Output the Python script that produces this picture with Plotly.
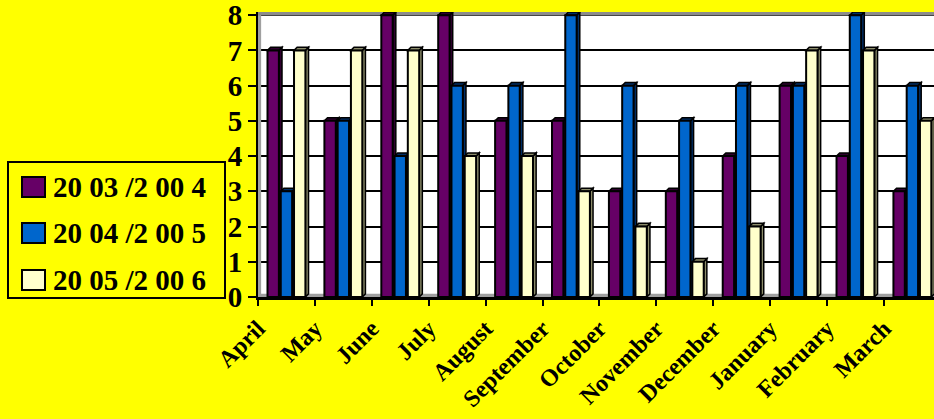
import plotly.graph_objects as go

# Monthly values per season
months = ["April", "May", "June", "July", "August", "September", "October",
          "November", "December", "January", "February", "March"]
season_names = ["20 03 /2 00 4", "20 04 /2 00 5", "20 05 /2 00 6"]
s_2003_04 = [7, 5, 8, 8, 5, 5, 3, 3, 4, 6, 4, 3]
s_2004_05 = [3, 5, 4, 6, 6, 8, 6, 5, 6, 6, 8, 6]
s_2005_06 = [7, 7, 7, 4, 4, 3, 2, 1, 2, 7, 7, 5]
y_ticks = [0, 1, 2, 3, 4, 5, 6, 7, 8]

series = [s_2003_04, s_2004_05, s_2005_06]
front_colors = ["#660066", "#0066CC", "#FFFFCC"]
side_colors = ["#2E002E", "#002E66", "#8C8C6A"]

W, H = 934, 419
ML, MT, MB = 258, 12, 122
plot_bottom = H - MB
plot_w = W - ML
plot_h = plot_bottom - MT

def paper_x(px):
    return (px - ML) / plot_w

def paper_y(py):
    return (plot_bottom - py) / plot_h

BAR_W = 0.2       # front face width (category units)
PITCH = 0.233     # spacing between bars in a group
DX = 0.055        # depth offset, x
DY = 0.09         # depth offset, y
Y_TOP = 8.09
X_RANGE = [-0.5, 11.38]

fig = go.Figure()
shapes = []

# floor and left wall of the 3D box
shapes.append(dict(type="rect", xref="x", yref="y", x0=-0.5, x1=X_RANGE[1],
                   y0=0, y1=DY, fillcolor="#A0A0A0", line=dict(width=0),
                   layer="between"))
shapes.append(dict(type="rect", xref="x", yref="y", x0=-0.5, x1=-0.5 + DX,
                   y0=0, y1=Y_TOP, fillcolor="#A0A0A0", line=dict(width=0),
                   layer="between"))
shapes.append(dict(type="rect", xref="x", yref="y", x0=-0.5, x1=X_RANGE[1],
                   y0=8 - 0.01, y1=Y_TOP, fillcolor="#8C8C8C", line=dict(width=0),
                   layer="between"))

for k, (vals, name) in enumerate(zip(series, season_names)):
    xs = [i + (k - 1) * PITCH for i in range(len(months))]
    fig.add_trace(go.Bar(
        x=xs, y=vals, width=BAR_W, name=name,
        marker=dict(color=front_colors[k], line=dict(color="black", width=2)),
        showlegend=False,
    ))
    # side and top faces of each bar
    for x, v in zip(xs, vals):
        xl, xr = x - BAR_W / 2, x + BAR_W / 2
        side = (f"M {xr},0 L {xr + DX},{DY} L {xr + DX},{v + DY} "
                f"L {xr},{v} Z")
        top = (f"M {xl},{v} L {xl + DX},{v + DY} L {xr + DX},{v + DY} "
               f"L {xr},{v} Z")
        for p in (side, top):
            shapes.append(dict(type="path", xref="x", yref="y", path=p,
                               fillcolor=side_colors[k],
                               line=dict(color="black", width=1.5),
                               layer="between"))

# legend box drawn by hand
shapes.append(dict(type="rect", xref="paper", yref="paper",
                   x0=paper_x(8), x1=paper_x(225),
                   y0=paper_y(298), y1=paper_y(162),
                   line=dict(color="black", width=2), fillcolor="rgba(0,0,0,0)",
                   layer="above"))
annotations = []
row_centers = [187, 233, 280]
for k, name in enumerate(season_names):
    yc = row_centers[k]
    shapes.append(dict(type="rect", xref="paper", yref="paper",
                       x0=paper_x(22), x1=paper_x(45),
                       y0=paper_y(yc + 10), y1=paper_y(yc - 10),
                       fillcolor=front_colors[k],
                       line=dict(color="black", width=2), layer="above"))
    annotations.append(dict(
        xref="paper", yref="paper", x=paper_x(51), y=paper_y(yc),
        xanchor="left", yanchor="middle", text=name, showarrow=False,
        font=dict(family="Liberation Serif", size=29, color="black",
                  weight="bold")))

fig.update_layout(
    width=W, height=H,
    margin=dict(l=ML, r=0, t=MT, b=MB, pad=0),
    paper_bgcolor="#FFFF00",
    plot_bgcolor="white",
    barmode="overlay",
    shapes=shapes,
    annotations=annotations,
    font=dict(family="Liberation Serif", color="black"),
    xaxis=dict(
        range=X_RANGE,
        tickmode="array",
        tickvals=[i - 0.5 for i in range(len(months))],
        ticktext=months,
        tickangle=-45,
        ticks="",
        ticklabelstandoff=5,
        ticklabeloverflow="allow",
        tickfont=dict(family="Liberation Serif", size=24, color="black",
                      weight="bold"),
        showgrid=False, zeroline=False,
        showline=True, linecolor="black", linewidth=3,
        minor=dict(tickvals=[i - 0.5 for i in range(len(months) + 1)],
                   ticks="outside", ticklen=6, tickwidth=2,
                   tickcolor="black", showgrid=False),
    ),
    yaxis=dict(
        range=[0, Y_TOP],
        tickmode="array", tickvals=y_ticks,
        ticks="outside", ticklen=8, tickwidth=2, tickcolor="black",
        ticklabeloverflow="allow",
        tickfont=dict(family="Liberation Serif", size=29, color="black",
                      weight="bold"),
        showgrid=True, gridcolor="black", gridwidth=2,
        zeroline=False,
        showline=True, linecolor="black", linewidth=2,
    ),
)

fig.write_html("out.html")
